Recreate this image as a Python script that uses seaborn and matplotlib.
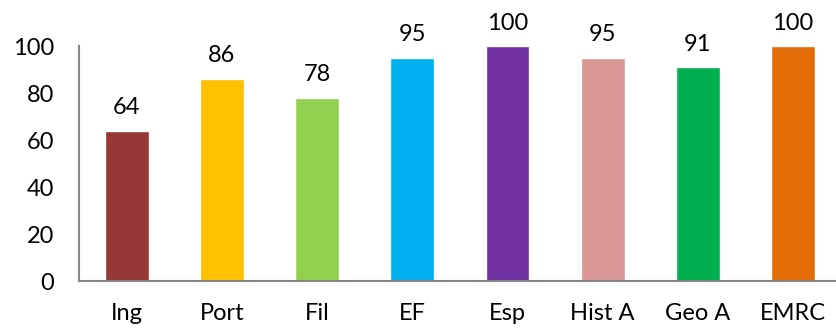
import matplotlib
matplotlib.use("Agg")
import matplotlib.pyplot as plt
import seaborn as sns
import pandas as pd

# Data
subjects = ["Ing", "Port", "Fil", "EF", "Esp", "Hist A", "Geo A", "EMRC"]
scores = [64, 86, 78, 95, 100, 95, 91, 100]
colors = ["#953735", "#FFC000", "#92D050", "#00B0F0",
          "#7030A0", "#D99694", "#00B050", "#E36C09"]
y_ticks = [0, 20, 40, 60, 80, 100]

sns.set_style("white")
plt.rcParams["font.family"] = ["Lato", "DejaVu Sans"]

df = pd.DataFrame({"subject": subjects, "score": scores})

fig = plt.figure(figsize=(8.37, 3.31), dpi=100)
ax = fig.add_axes([0.0944, 0.151, 0.91, 0.71])

sns.barplot(data=df, x="subject", y="score", hue="subject",
            palette=colors, width=0.46, legend=False, ax=ax, saturation=1)

for i, v in enumerate(scores):
    ax.annotate(str(v), (i, v), xytext=(0, 9), textcoords="offset points",
                ha="center", va="bottom", fontsize=17, color="#000000",
                annotation_clip=False)

ax.set_ylim(0, 100)
ax.set_xlim(-0.5, len(subjects) - 0.5)
ax.set_yticks(y_ticks)
ax.set_xlabel("")
ax.set_ylabel("")
ax.tick_params(axis="both", length=0, labelsize=17, colors="#000000")
ax.tick_params(axis="y", pad=18)
ax.tick_params(axis="x", pad=16)

for side in ["top", "right"]:
    ax.spines[side].set_visible(False)
for side in ["left", "bottom"]:
    ax.spines[side].set_color("#868686")
    ax.spines[side].set_linewidth(1.5)

fig.savefig("out.png", dpi=100)
